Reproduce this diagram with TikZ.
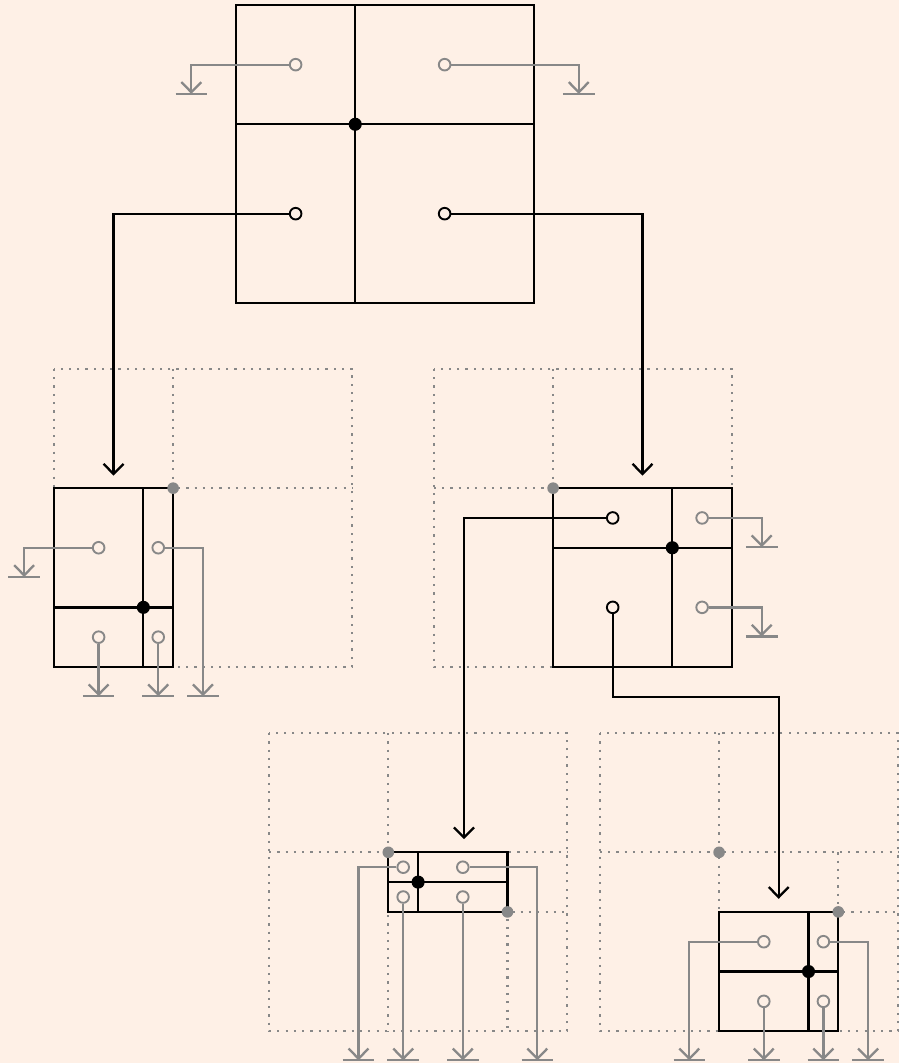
\documentclass[tikz,border=0pt]{standalone}
\usepackage{tikz}
\usetikzlibrary{arrows.meta,calc}
\definecolor{bgpeach}{RGB}{254,240,230}
\definecolor{nilgray}{RGB}{136,136,136}
\newcommand{\cross}[4]
{
\draw[#1] (#4 |- #2) -- (#4 |- #3);
\draw[#1] (#2 |- #4) -- (#3 |- #4);
}
\newcommand{\ground}[1]
{
\draw[nilline] (#1)+(-0.53,0) -- +(0.53,0);
}
\tikzstyle{quadline}=[draw=black, line width=2.2pt]
\tikzstyle{regionline}=[draw=nilgray, line width=2.1pt, dash pattern=on 2.1pt off 5.8pt]
\tikzstyle{splitdot}=[circle, fill=black, inner sep=0pt, minimum size=4.4mm]
\tikzstyle{oldsplit}=[circle, fill=nilgray, inner sep=0pt, minimum size=3.9mm]
\tikzstyle{ptr}=[circle, draw=black, line width=1.8pt, inner sep=0pt, minimum size=3.9mm]
\tikzstyle{nilptr}=[ptr, draw=nilgray]
\tikzstyle{nilline}=[draw=nilgray, line width=2.2pt]
\tikzstyle{childarrow}=[-{Straight Barb[length=3.4mm,width=6.7mm]}, line width=2.2pt]
\tikzstyle{nilarrow}=[childarrow, nilline]

\begin{document}
\begin{tikzpicture}[y=-1cm]
\fill[bgpeach] (0,0) rectangle (30.17,35.67);
% regions
\coordinate (l1) at (1.81,12.38);
\coordinate (l2) at (11.81,22.38);
\coordinate (ls) at (5.81,16.38);
\coordinate (r1) at (14.56,12.38);
\coordinate (r2) at (24.56,22.38);
\coordinate (rs) at (18.56,16.38);
\coordinate (a1) at (9.03,24.6);
\coordinate (a2) at (19.03,34.6);
\coordinate (as) at (13.03,28.6);
\coordinate (ass) at (17.03,30.6);
\coordinate (b1) at (20.13,24.6);
\coordinate (b2) at (30.13,34.6);
\coordinate (bs) at (24.13,28.6);
\coordinate (bss) at (28.13,30.6);
\draw[regionline] (l1) rectangle (l2);
\cross{regionline}{l1}{l2}{ls};
\draw[regionline] (r1) rectangle (r2);
\cross{regionline}{r1}{r2}{rs};
\draw[regionline] (a1) rectangle (a2);
\cross{regionline}{a1}{a2}{as};
\cross{regionline}{as}{a2}{ass};
\draw[regionline] (b1) rectangle (b2);
\cross{regionline}{b1}{b2}{bs};
\cross{regionline}{bs}{b2}{bss};
% boxes
\coordinate (t1) at (7.92,0.17);
\coordinate (t2) at (17.92,10.17);
\node[splitdot] (tc) at (11.92,4.17) {};
\draw[quadline] (t1) rectangle (t2);
\cross{quadline}{t1}{t2}{tc};
\coordinate (lb1) at (l1 |- ls);
\coordinate (lb2) at (ls |- l2);
\node[splitdot] (lc) at (4.81,20.38) {};
\draw[quadline] (lb1) rectangle (lb2);
\cross{quadline}{lb1}{lb2}{lc};
\node[splitdot] (rc) at (22.56,18.38) {};
\draw[quadline] (rs) rectangle (r2);
\cross{quadline}{rs}{r2}{rc};
\node[splitdot] (ac) at (14.03,29.6) {};
\draw[quadline] (as) rectangle (ass);
\cross{quadline}{as}{ass}{ac};
\coordinate (bb1) at (bs |- bss);
\coordinate (bb2) at (bss |- b2);
\node[splitdot] (bc) at (27.13,32.6) {};
\draw[quadline] (bb1) rectangle (bb2);
\cross{quadline}{bb1}{bb2}{bc};
\node[oldsplit] (lsdot) at (ls) {};
\node[oldsplit] (rsdot) at (rs) {};
\node[oldsplit] (asdot) at (as) {};
\node[oldsplit] (assdot) at (ass) {};
\node[oldsplit] (bsdot) at (bs) {};
\node[oldsplit] (bssdot) at (bss) {};
% pointers
\node[nilptr] (tnw) at (9.92,2.17) {};
\node[nilptr] (tne) at (14.92,2.17) {};
\node[ptr] (tsw) at (9.92,7.17) {};
\node[ptr] (tse) at (14.92,7.17) {};
\node[nilptr] (lnw) at (3.31,18.38) {};
\node[nilptr] (lne) at (5.31,18.38) {};
\node[nilptr] (lsw) at (3.31,21.38) {};
\node[nilptr] (lse) at (5.31,21.38) {};
\node[ptr] (rnw) at (20.56,17.38) {};
\node[nilptr] (rne) at (23.56,17.38) {};
\node[ptr] (rsw) at (20.56,20.38) {};
\node[nilptr] (rse) at (23.56,20.38) {};
\node[nilptr] (anw) at (13.53,29.1) {};
\node[nilptr] (ane) at (15.53,29.1) {};
\node[nilptr] (asw) at (13.53,30.1) {};
\node[nilptr] (ase) at (15.53,30.1) {};
\node[nilptr] (bnw) at (25.63,31.6) {};
\node[nilptr] (bne) at (27.63,31.6) {};
\node[nilptr] (bsw) at (25.63,33.6) {};
\node[nilptr] (bse) at (27.63,33.6) {};
\coordinate (ltop) at (3.81,15.96);
\coordinate (rtop) at (21.56,15.96);
\coordinate (atop) at (15.57,28.16);
\coordinate (rbend) at (26.13,23.38);
\coordinate (btop) at (26.13,30.16);
\draw[childarrow] (tsw) -| (ltop);
\draw[childarrow] (tse) -| (rtop);
\draw[childarrow] (rnw) -| (atop);
\draw[childarrow] (rsw) |- (rbend) -- (btop);
% nil pointers
\coordinate (tnwg) at (6.42,3.15);
\coordinate (tneg) at (19.42,3.15);
\coordinate (lnwg) at (0.81,19.36);
\coordinate (lneg) at (6.81,23.36);
\coordinate (lswg) at (3.31,23.36);
\coordinate (lseg) at (5.31,23.36);
\coordinate (rneg) at (25.56,18.36);
\coordinate (rseg) at (25.56,21.36);
\coordinate (anwg) at (12.03,35.58);
\coordinate (aneg) at (18.03,35.58);
\coordinate (aswg) at (13.53,35.58);
\coordinate (aseg) at (15.53,35.58);
\coordinate (bnwg) at (23.13,35.58);
\coordinate (bneg) at (29.13,35.58);
\coordinate (bswg) at (25.63,35.58);
\coordinate (bseg) at (27.63,35.58);
\draw[nilarrow] (tnw) -| (tnwg);
\draw[nilarrow] (tne) -| (tneg);
\draw[nilarrow] (lnw) -| (lnwg);
\draw[nilarrow] (lne) -| (lneg);
\draw[nilarrow] (lsw) -- (lswg);
\draw[nilarrow] (lse) -- (lseg);
\draw[nilarrow] (rne) -| (rneg);
\draw[nilarrow] (rse) -| (rseg);
\draw[nilarrow] (anw) -| (anwg);
\draw[nilarrow] (ane) -| (aneg);
\draw[nilarrow] (asw) -- (aswg);
\draw[nilarrow] (ase) -- (aseg);
\draw[nilarrow] (bnw) -| (bnwg);
\draw[nilarrow] (bne) -| (bneg);
\draw[nilarrow] (bsw) -- (bswg);
\draw[nilarrow] (bse) -- (bseg);
\ground{tnwg}; \ground{tneg};
\ground{lnwg}; \ground{lneg}; \ground{lswg}; \ground{lseg};
\ground{rneg}; \ground{rseg};
\ground{anwg}; \ground{aneg}; \ground{aswg}; \ground{aseg};
\ground{bnwg}; \ground{bneg}; \ground{bswg}; \ground{bseg};
\end{tikzpicture}
\end{document}
